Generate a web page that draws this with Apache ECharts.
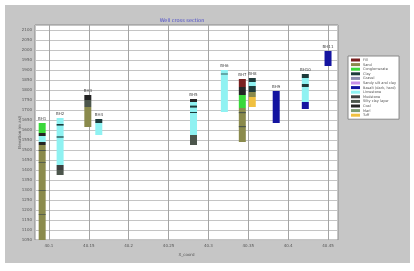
<!DOCTYPE html>
<html>
<head>
<meta charset="utf-8">
<script src="https://cdn.jsdelivr.net/npm/echarts@6/dist/echarts.min.js"></script>
<style>
  body { margin: 0; background: #fff; }
  #chart { width: 414px; height: 271px; }
</style>
</head>
<body>
<div id="chart"></div>
<script>
  // lithology legend
  const lithNames = ['Fill', 'Sand', 'Conglomerate', 'Clay', 'Gravel', 'Sandy silt and clay', 'Basalt (dark, hard)', 'Limestone', 'Mudstone', 'Silty clay layer', 'Coal', 'Marl', 'Tuff'];
  const lithColors = ['#7a1f1f', '#8a8a4c', '#3ad83a', '#1d3b3b', '#8c8cae', '#c890e8', '#1414a0', '#8ff2f2', '#3e3e3e', '#4c564c', '#242424', '#7c9c72', '#f0c040'];

  // wells: name, x position (in label units), and [lith, top, bottom] intervals
  const wellNames = ['BH1', 'BH2', 'BH3', 'BH4', 'BH5', 'BH6', 'BH7', 'BH8', 'BH9', 'BH10', 'BH11'];
  const wellX = [-0.17, 0.28, 0.975, 1.25, 3.625, 4.4, 4.85, 5.1, 5.7, 6.43, 7.0];
  const well1 = [[2, 1635, 1585], [10, 1585, 1570], [7, 1570, 1540], [10, 1540, 1525], [1, 1525, 1050], [9, 1500, 1495], [9, 1440, 1436], [9, 1300, 1296], [9, 1180, 1176]];
  const well2 = [[7, 1660, 1425], [3, 1630, 1622], [3, 1568, 1562], [8, 1425, 1400], [9, 1400, 1375]];
  const well3 = [[10, 1775, 1750], [9, 1750, 1715], [1, 1715, 1615]];
  const well4 = [[3, 1655, 1635], [7, 1635, 1575]];
  const well5 = [[10, 1755, 1740], [7, 1740, 1575], [3, 1722, 1712], [3, 1690, 1685], [9, 1575, 1525]];
  const well6 = [[7, 1900, 1690], [3, 1882, 1878]];
  const well7 = [[0, 1855, 1815], [10, 1815, 1775], [2, 1775, 1710], [1, 1710, 1540], [9, 1690, 1684], [9, 1620, 1614]];
  const well8 = [[3, 1860, 1840], [7, 1840, 1820], [3, 1820, 1790], [1, 1790, 1765], [12, 1765, 1715]];
  const well9 = [[6, 1795, 1635]];
  const well10 = [[3, 1880, 1860], [7, 1860, 1830], [3, 1830, 1815], [7, 1815, 1740], [6, 1740, 1705]];
  const well11 = [[6, 1995, 1920]];
  const wellSegments = [well1, well2, well3, well4, well5, well6, well7, well8, well9, well10, well11];

  // axis labels
  const xTickLabels = ['40.1', '40.15', '40.2', '40.25', '40.3', '40.35', '40.4', '40.45'];
  const xTickValues = [0, 1, 2, 3, 4, 5, 6, 7];

  const chart = echarts.init(document.getElementById('chart'));
  const FONT = 'DejaVu Sans';

  function renderSeg(params, api) {
    const x = api.value(0);
    const p1 = api.coord([x, api.value(1)]);
    const p2 = api.coord([x, api.value(2)]);
    return {
      type: 'rect',
      shape: { x: p1[0] - 3.5, y: p1[1], width: 7, height: p2[1] - p1[1] },
      style: { fill: api.visual('color') },
    };
  }

  function renderName(params, api) {
    const p = api.coord([api.value(0), api.value(1)]);
    return {
      type: 'text',
      x: p[0],
      y: p[1] - 2,
      style: {
        text: wellNames[params.dataIndex],
        fill: '#444',
        fontSize: 4,
        fontFamily: FONT,
        align: 'center',
        verticalAlign: 'bottom',
      },
    };
  }

  const series = lithNames.map((name, li) => {
    const data = [];
    wellSegments.forEach((segs, wi) => {
      segs.forEach((s) => {
        if (s[0] === li) data.push([wellX[wi], s[1], s[2]]);
      });
    });
    return {
      name: name,
      type: 'custom',
      renderItem: renderSeg,
      itemStyle: { color: lithColors[li] },
      encode: { x: 0, y: [1, 2] },
      data: data,
      z: 2,
    };
  });
  // thin bands drawn on top of the main intervals
  series.forEach((s, i) => { if (i === 9 || i === 3 || i === 8) s.z = 4; });

  series.push({
    name: 'wells',
    type: 'custom',
    renderItem: renderName,
    encode: { x: 0, y: 1 },
    data: wellX.map((x, i) => [x, Math.max(...wellSegments[i].map((s) => s[1]))]),
    z: 5,
  });

  chart.setOption({
    animation: false,
    backgroundColor: '#fff',
    textStyle: { fontFamily: FONT },
    graphic: [
      { type: 'rect', left: 5, top: 5, shape: { width: 405, height: 258 }, style: { fill: '#c6c6c6' }, z: -10 },
    ],
    title: {
      text: 'Well cross section',
      left: 177,
      top: 13,
      textAlign: 'center',
      textStyle: { fontSize: 5, fontWeight: 'normal', color: '#4646c8', fontFamily: FONT },
    },
    legend: {
      data: lithNames,
      orient: 'vertical',
      left: 348,
      top: 56,
      width: 54,
      padding: [2, 3, 2, 3],
      itemWidth: 9,
      itemHeight: 3,
      itemGap: 0.6,
      icon: 'rect',
      backgroundColor: '#fff',
      borderColor: '#888',
      borderWidth: 1,
      borderRadius: 0,
      textStyle: { fontSize: 3.5, color: '#555', padding: [0, 0, 0, -2] },
    },
    grid: {
      left: 35,
      right: 76,
      top: 25,
      bottom: 31,
      show: true,
      backgroundColor: '#fff',
      borderColor: '#8a8a8a',
      borderWidth: 1,
    },
    xAxis: {
      type: 'value',
      min: -0.35,
      max: 7.25,
      name: 'X_coord',
      nameLocation: 'middle',
      nameGap: 11,
      nameTextStyle: { fontSize: 4, color: '#555' },
      axisLine: { show: false },
      axisTick: { show: false, customValues: xTickValues },
      axisLabel: {
        customValues: xTickValues,
        fontSize: 4,
        color: '#555',
        margin: 4,
        formatter: (v) => xTickLabels[Math.round(v)] || '',
      },
      splitLine: { show: true, lineStyle: { color: '#a4a4a4', width: 1 } },
    },
    yAxis: {
      type: 'value',
      min: 1050,
      max: 2125,
      interval: 50,
      name: 'Elevation (m asl)',
      nameLocation: 'middle',
      nameGap: 13,
      nameMoveOverlap: false,
      nameTextStyle: { fontSize: 4, color: '#555' },
      axisLine: { show: false },
      axisTick: { show: false },
      axisLabel: {
        fontSize: 4,
        color: '#555',
        margin: 3,
        formatter: (v) => (v % 50 === 0 ? String(v) : ''),
      },
      splitLine: { show: true, lineStyle: { color: '#c4c4c4', width: 1 } },
    },
    series: series,
  });
</script>
</body>
</html>
